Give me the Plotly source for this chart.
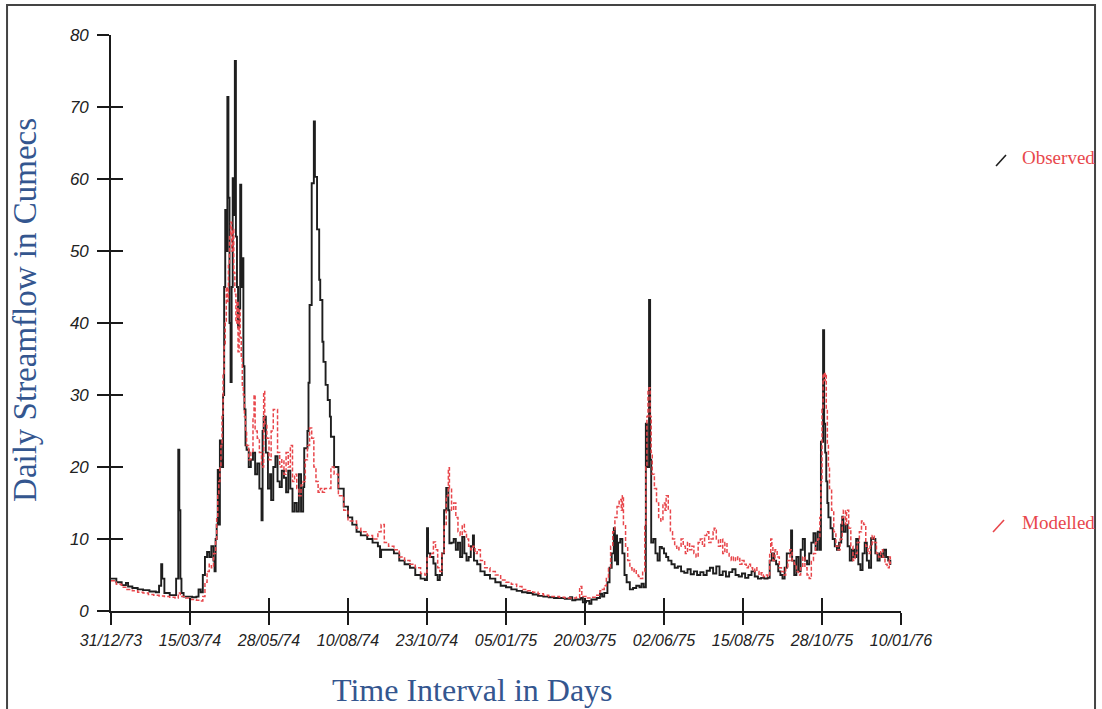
import plotly.graph_objects as go

# ---------------- data (day index from 31/12/73, daily streamflow in cumecs) ----------------
x_tick_days = [0, 74, 148, 222, 296, 370, 444, 518, 592, 666, 740]
x_tick_labels = ['31/12/73', '15/03/74', '28/05/74', '10/08/74', '23/10/74', '05/01/75',
                 '20/03/75', '02/06/75', '15/08/75', '28/10/75', '10/01/76']
y_tick_vals = [0, 10, 20, 30, 40, 50, 60, 70, 80]
y_tick_labels = ['0', '10', '20', '30', '40', '50', '60', '70', '80']

obs_day = [
    0, 5, 10, 14, 16, 20, 25, 30, 36, 42,
    45, 47, 48, 50, 55, 60, 61, 63, 64, 65,
    66, 68, 72, 76, 80, 82, 84, 86, 88, 90,
    92, 94, 96, 97, 98, 99, 100, 101, 102, 103,
    104, 105, 106, 107, 108, 109, 110, 111, 112, 113,
    114, 115, 116, 117, 118, 119, 120, 121, 122, 123,
    124, 125, 126, 127, 129, 131, 133, 135, 137, 139,
    141, 142, 143, 145, 147, 149, 150, 152, 154, 156,
    158, 160, 162, 164, 166, 168, 170, 172, 174, 176,
    178, 180, 181, 184, 185, 186, 188, 190, 191, 193,
    195, 196, 198, 199, 201, 203, 205, 206, 209, 213,
    218, 222, 226, 230, 234, 240, 245, 250, 252, 253,
    256, 260, 265, 270, 275, 280, 285, 290, 294, 296,
    297, 299, 302, 304, 306, 308, 310, 312, 314, 316,
    317, 319, 321, 323, 325, 327, 329, 331, 333, 335,
    337, 339, 340, 343, 346, 350, 355, 360, 365, 370,
    375, 380, 385, 390, 395, 400, 405, 410, 415, 420,
    425, 430, 432, 435, 440, 442, 445, 448, 450, 455,
    458, 460, 462, 465, 467, 469, 471, 472, 473, 474,
    475, 477, 479, 481, 483, 486, 489, 492, 495, 497,
    499, 501, 502, 504, 505, 506, 508, 510, 512, 514,
    516, 518, 520, 522, 525, 528, 531, 534, 537, 540,
    543, 546, 549, 552, 555, 558, 561, 564, 567, 570,
    573, 576, 579, 582, 585, 588, 591, 594, 597, 600,
    603, 606, 609, 612, 615, 617, 619, 621, 623, 625,
    627, 629, 631, 633, 636, 637, 638, 640, 642, 644,
    646, 648, 650, 652, 654, 656, 658, 660, 662, 664,
    665, 667, 668, 669, 670, 671, 672, 674, 676, 678,
    680, 682, 684, 685, 686, 688, 690, 692, 694, 696,
    698, 700, 702, 704, 706, 708, 710, 712, 714, 716,
    718, 720, 722, 724, 726, 728, 730,
]
obs_cumecs = [
    4.5, 4.0, 3.6, 3.9, 3.4, 3.2, 3.0, 2.9, 2.7, 2.6,
    3.5, 6.5, 4.5, 2.5, 2.2, 2.2, 4.5, 22.4, 14, 4.5,
    2.5, 2.0, 2.0, 1.9, 2.0, 3.0, 2.6, 5.0, 7.5, 8.2,
    7.5, 9.0, 7.0, 5.5, 10, 12, 19.6, 12, 23.7, 21,
    20, 30, 45, 55.7, 50, 71.4, 57.4, 40, 31.8, 45,
    60.1, 55, 76.4, 52, 45, 39.4, 42, 59.2, 45, 49,
    34, 28, 23, 22.4, 20, 21, 22, 19, 20.5, 17,
    12.6, 25, 27, 22, 17, 19, 15.4, 20, 21.5, 18,
    17.2, 19.5, 18.5, 16.5, 19.5, 17, 13.8, 15, 13.8, 19,
    13.8, 17.2, 22.6, 25, 31.7, 42.5, 59.4, 68, 60.3, 53,
    46, 43.2, 37.4, 34.6, 31.4, 29.3, 27, 24.2, 20, 17,
    14.5, 13, 12, 11, 10.5, 10, 9.5, 9, 7.5, 8.5,
    8.5, 8.5, 8, 7, 6.5, 6, 5, 4.5, 4.3, 11.5,
    8, 7.5, 6.6, 5, 4.3, 5, 8, 14, 17.1, 14,
    9.4, 9.5, 10, 8.5, 9.5, 7.5, 10.3, 8, 7, 7.5,
    9, 10.5, 7, 6.5, 5.5, 5, 4.5, 4.0, 3.5, 3.3,
    3.0, 2.8, 2.6, 2.5, 2.3, 2.1, 2.0, 1.9, 1.8, 1.8,
    1.7, 1.9, 1.5, 1.6, 1.8, 1.2, 1.4, 1.0, 1.6, 1.8,
    2.4, 2.0, 2.5, 4, 6, 8, 11.5, 7, 10.5, 6.5,
    9.5, 10, 8, 5, 4, 3, 3.2, 3.5, 3.3, 3.8,
    3.3, 26, 20, 43.2, 21, 9.5, 10, 8, 7, 8.9,
    8.7, 8.0, 7.5, 7, 6.5, 6, 6.2, 5.5, 5.3, 5.8,
    5.1, 5.5, 5.0, 5.4, 5.0, 5.6, 6.0, 5.2, 6.2, 5,
    5.5, 4.8, 5.4, 5.8, 5, 4.8, 5.2, 4.6, 5, 5.5,
    4.8, 4.5, 4.6, 4.5, 4.6, 7, 8, 7, 6.5, 5.5,
    5, 4.5, 6, 8, 8, 11.2, 7, 5, 7.5, 5.5,
    8.5, 10, 7, 6.5, 8, 9.5, 10.8, 8.5, 11, 8.5,
    23.5, 39, 26, 22, 18, 15, 13, 11.5, 10, 9,
    8.5, 9.5, 12, 13.1, 11, 12, 9, 7, 8.5, 7.5,
    10, 6.5, 5.7, 8, 9.5, 7, 6, 10.1, 10, 8,
    7, 8, 7.5, 8.5, 7.5, 7, 6.4,
]

mod_day = [
    0, 5, 10, 15, 20, 25, 30, 35, 40, 45,
    50, 55, 60, 63, 65, 70, 75, 80, 84, 86,
    88, 90, 92, 94, 96, 98, 99, 100, 101, 102,
    103, 104, 105, 106, 107, 108, 109, 110, 111, 112,
    113, 114, 115, 116, 117, 118, 119, 120, 121, 122,
    123, 124, 125, 126, 127, 129, 131, 133, 134, 135,
    137, 139, 141, 143, 144, 146, 148, 150, 152, 154,
    156, 158, 160, 162, 164, 166, 168, 170, 172, 174,
    176, 178, 180, 182, 184, 186, 188, 190, 192, 194,
    196, 198, 200, 203, 206, 209, 213, 218, 222, 226,
    230, 234, 240, 245, 250, 253, 256, 260, 265, 270,
    275, 280, 285, 290, 294, 296, 299, 302, 304, 306,
    308, 310, 312, 314, 316, 317, 319, 321, 323, 325,
    327, 329, 331, 333, 335, 337, 339, 341, 343, 346,
    350, 355, 360, 365, 370, 375, 380, 385, 390, 395,
    400, 405, 410, 415, 420, 425, 430, 436, 439, 441,
    445, 450, 455, 458, 460, 462, 464, 466, 468, 470,
    472, 474, 476, 478, 479, 480, 482, 484, 486, 488,
    490, 492, 494, 496, 498, 500, 501, 502, 503, 504,
    505, 506, 507, 509, 511, 513, 515, 517, 519, 520,
    522, 524, 526, 528, 530, 532, 534, 536, 538, 540,
    542, 544, 546, 548, 550, 552, 554, 556, 558, 560,
    562, 564, 565, 567, 569, 571, 573, 575, 577, 579,
    581, 583, 585, 587, 589, 591, 593, 595, 597, 599,
    601, 603, 605, 607, 609, 611, 613, 615, 617, 618,
    619, 620, 622, 624, 626, 628, 630, 632, 634, 636,
    638, 640, 642, 644, 646, 648, 650, 652, 654, 656,
    658, 660, 662, 664, 665, 666, 667, 668, 669, 670,
    671, 672, 673, 675, 677, 679, 681, 683, 685, 686,
    688, 689, 691, 693, 695, 697, 699, 701, 703, 705,
    707, 709, 711, 713, 715, 717, 719, 721, 723, 725,
    727, 729, 730,
]
mod_cumecs = [
    4.2, 3.7, 3.3, 3.0, 2.8, 2.6, 2.5, 2.3, 2.2, 2.1,
    2.0, 1.9, 1.8, 2.5, 2.0, 1.8, 1.6, 1.5, 1.4, 2.0,
    4, 5.5, 6.5, 6, 8, 10, 13, 16, 18, 20,
    23, 27, 33, 37, 40, 45, 43, 48, 52, 54,
    50, 53, 47, 44, 40, 43, 36, 41.8, 38, 35,
    31, 30, 27, 25, 23, 21, 22, 27, 30, 25,
    24, 22, 20, 30.5, 26, 24, 21, 25, 28, 28,
    22, 20, 21, 19, 22, 20, 23, 18, 19, 17,
    16, 17.5, 18, 21, 23, 25.4, 24, 20, 18, 16.5,
    17, 16.5, 17, 17, 20, 19, 16, 14, 12.5, 12.5,
    11.5, 11, 10.5, 10, 11, 12, 9.5, 9, 8.5, 7.5,
    7, 6.5, 6, 5.2, 5, 7.5, 8, 9.6, 8.5, 6,
    5.5, 8, 12, 16, 19.9, 17, 14, 15, 13, 11,
    10.5, 12, 11, 10, 9, 8.5, 9, 8, 8.5, 7,
    6, 5.5, 5, 4.3, 4, 3.7, 3.4, 3.0, 2.8, 2.6,
    2.4, 2.2, 2.0, 2.0, 1.9, 1.8, 1.8, 1.9, 3.4, 2.0,
    1.8, 1.9, 2.2, 2.8, 3.0, 3.5, 4.5, 6, 9, 11,
    13, 14.5, 15.5, 14, 16, 12, 9, 7, 6, 5.5,
    5.8, 5, 4.8, 4.5, 5.5, 12, 20, 27, 30.5, 31,
    27, 22, 19, 17, 15, 13, 12.5, 15, 14, 16,
    14, 11, 10, 9, 8.5, 9, 10, 9, 8, 9.5,
    8.5, 9, 8, 7.5, 9.5, 10, 9, 10.5, 11, 9.5,
    10, 11, 11.5, 10, 9, 10, 8, 9.5, 8, 7.5,
    7, 7.5, 7, 7.5, 6.5, 7, 6.5, 6, 6.5, 6,
    5.5, 6, 5.5, 5, 5.3, 4.8, 5, 4.8, 8, 10,
    9, 7, 8.5, 7.5, 6, 5.5, 5, 6, 7, 8.5,
    7, 6.5, 5.5, 5, 6, 7.5, 6, 5, 4.5, 7,
    8, 9.5, 10, 13, 18, 28, 33, 32, 33, 28,
    23, 20, 17, 14, 11, 9, 8.5, 10, 13, 14,
    12, 14, 11.5, 9, 7, 8, 9.5, 11, 12.5, 12,
    9, 8, 9, 10.5, 9.5, 8, 7.5, 8.5, 7.5, 6.5,
    6, 7.5, 6.5,
]

series_names = ['Observed', 'Modelled']
# ---------------------------------------------------------------------------------------------

BLACK = '#1e1e1e'
RED = '#e8474c'
BLUE = '#34568f'
AXIS = '#1a1a1a'

fig = go.Figure()
fig.add_trace(go.Scatter(x=obs_day, y=obs_cumecs, mode='lines', name=series_names[0],
                         line=dict(color=BLACK, width=1.9, shape='hv'), showlegend=False))
fig.add_trace(go.Scatter(x=mod_day, y=mod_cumecs, mode='lines', name=series_names[1],
                         line=dict(color=RED, width=1.5, dash='4px,2px', shape='hv'), showlegend=False))
# empty trace to activate overlay axes that carry the inner half of each tick
fig.add_trace(go.Scatter(x=[], y=[], xaxis='x2', yaxis='y2', showlegend=False, hoverinfo='skip'))

tickfont = dict(family='Liberation Sans', size=16, color='#222222', style='italic')

fig.update_layout(
    width=1102, height=709, autosize=False,
    margin=dict(l=111, r=201, t=35, b=98, pad=0),
    paper_bgcolor='white', plot_bgcolor='white',
    showlegend=False,
    xaxis=dict(range=[0, 740], tickmode='array', tickvals=x_tick_days, ticktext=x_tick_labels,
               ticks='outside', ticklen=12, tickwidth=1.6, tickcolor=AXIS,
               showline=True, linecolor=AXIS, linewidth=1.6, showgrid=False, zeroline=False,
               tickfont=tickfont, ticklabelstandoff=2, automargin=False, fixedrange=True),
    yaxis=dict(range=[0, 80], tickmode='array', tickvals=y_tick_vals, ticktext=y_tick_labels,
               ticks='outside', ticklen=12, tickwidth=1.6, tickcolor=AXIS,
               showline=True, linecolor=AXIS, linewidth=1.6, showgrid=False, zeroline=False,
               tickfont=dict(family='Liberation Sans', size=17, color='#222222', style='italic'),
               ticklabelstandoff=5, automargin=False, fixedrange=True),
    xaxis2=dict(overlaying='x', anchor='y2', side='bottom', range=[0, 740], tickmode='array',
                tickvals=x_tick_days, ticks='inside', ticklen=13, tickwidth=1.6, tickcolor=AXIS,
                showticklabels=False, showline=False, showgrid=False, zeroline=False, fixedrange=True),
    yaxis2=dict(overlaying='y', anchor='x2', side='left', range=[0, 80], tickmode='array',
                tickvals=y_tick_vals, ticks='inside', ticklen=12, tickwidth=1.6, tickcolor=AXIS,
                showticklabels=False, showline=False, showgrid=False, zeroline=False, fixedrange=True),
)

# axis titles
fig.add_annotation(text='Daily Streamflow in Cumecs', xref='paper', yref='paper',
                   x=-0.1089, y=0.5226, xanchor='center', yanchor='middle', textangle=-90,
                   showarrow=False, font=dict(family='Liberation Serif', size=33, color=BLUE))
fig.add_annotation(text='Time Interval in Days', xref='paper', yref='paper',
                   x=0.458, y=-0.137, xanchor='center', yanchor='middle',
                   showarrow=False, font=dict(family='Liberation Serif', size=32, color=BLUE))

# legend (drawn as in the original: slash glyph + red label)
fig.add_annotation(text=series_names[0], xref='paper', yref='paper', x=1.1506, y=0.7865,
                   xanchor='left', yanchor='middle', showarrow=False,
                   font=dict(family='Liberation Serif', size=19, color=RED))
fig.add_annotation(text=series_names[1], xref='paper', yref='paper', x=1.1506, y=0.1545,
                   xanchor='left', yanchor='middle', showarrow=False,
                   font=dict(family='Liberation Serif', size=19, color=RED))
fig.add_shape(type='line', xref='paper', yref='paper', x0=1.1203, y0=0.7726, x1=1.1329, y1=0.7917,
              line=dict(color=BLACK, width=1.6))
fig.add_shape(type='line', xref='paper', yref='paper', x0=1.1165, y0=0.1372, x1=1.1304, y1=0.1580,
              line=dict(color=RED, width=1.6))

# outer frame
fig.add_shape(type='rect', xref='paper', yref='paper', x0=-0.1316, y0=-0.1806, x1=1.2456, y1=1.0521,
              line=dict(color='#444444', width=2), fillcolor='rgba(0,0,0,0)', layer='below')

fig.write_html('out.html')
